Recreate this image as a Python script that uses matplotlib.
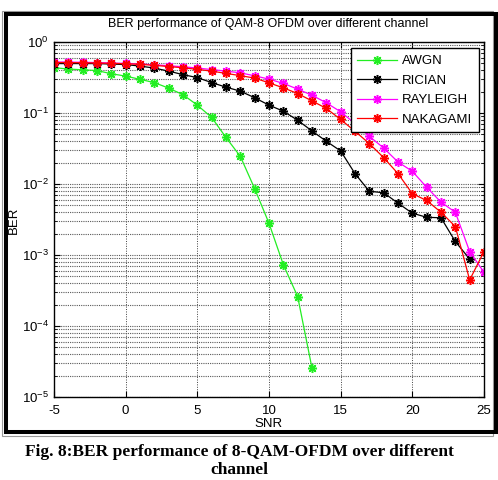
import numpy as np
import matplotlib
matplotlib.use("Agg")
import matplotlib.pyplot as plt
from matplotlib.patches import Rectangle
from matplotlib.ticker import LogLocator, NullFormatter, FixedLocator

plt.rcParams['font.family'] = ['Liberation Sans', 'DejaVu Sans']
plt.rcParams['mathtext.fontset'] = 'custom'
plt.rcParams['mathtext.rm'] = 'Liberation Sans'
plt.rcParams['mathtext.it'] = 'Liberation Sans'
plt.rcParams['axes.unicode_minus'] = False

snr = list(range(-5, 26))
awgn = [0.435, 0.416, 0.406, 0.396, 0.357, 0.331, 0.298, 0.268, 0.224, 0.181,
        0.129, 0.0866, 0.0452, 0.0245, 0.0086, 0.0028, 7.3e-4, 2.6e-4, 2.55e-5] + [np.nan] * 12
rician = [0.497, 0.497, 0.497, 0.497, 0.489, 0.481, 0.458, 0.429, 0.389, 0.347,
          0.315, 0.268, 0.2314, 0.203, 0.164, 0.129, 0.106, 0.079, 0.0558, 0.040,
          0.0292, 0.014, 0.0079, 0.00753, 0.00537, 0.00388, 0.0034, 0.00334, 0.00155, 0.000875, np.nan]
rayleigh = [0.522, 0.522, 0.517, 0.514, 0.505, 0.500, 0.489, 0.478, 0.463, 0.448,
            0.430, 0.409, 0.389, 0.368, 0.334, 0.300, 0.261, 0.217, 0.178, 0.139,
            0.104, 0.071, 0.047, 0.0321, 0.0204, 0.0151, 0.0090, 0.00555, 0.0040, 0.00112, 0.00057]
nakagami = [0.5135, 0.5135, 0.510, 0.505, 0.500, 0.494, 0.484, 0.469, 0.451, 0.4335,
            0.4115, 0.389, 0.361, 0.336, 0.310, 0.266, 0.226, 0.188, 0.148, 0.116,
            0.081, 0.0553, 0.0371, 0.0235, 0.014, 0.0073, 0.00586, 0.0040, 0.00252, 0.000445, 0.00112]

series = [("AWGN", awgn, "#22ee22"), ("RICIAN", rician, "black"),
          ("RAYLEIGH", rayleigh, "#ff00ff"), ("NAKAGAMI", nakagami, "#ff0000")]
xticks = [-5, 0, 5, 10, 15, 20, 25]

W, H = 498, 480
fig = plt.figure(figsize=(W / 100, H / 100), dpi=100)

def fx(px):
    return px / W

def fy(py):
    return 1 - py / H

ax = fig.add_axes([fx(54), fy(397), fx(484) - fx(54), fy(42) - fy(397)])
for name, vals, col in series:
    ax.plot(snr, vals, color=col, lw=0.9, marker=(8, 2, 0), markersize=6.5,
            markeredgewidth=1.1, label=name)

ax.set_yscale('log')
ax.set_xlim(-5, 25)
ax.set_ylim(1e-5, 1)
ax.xaxis.set_major_locator(FixedLocator(xticks))
ax.yaxis.set_major_locator(LogLocator(base=10, numticks=10))
ax.yaxis.set_minor_locator(LogLocator(base=10, subs=np.arange(2, 10), numticks=20))
ax.yaxis.set_minor_formatter(NullFormatter())
ax.tick_params(which='both', direction='in', top=True, right=True, labelsize=9.5)
ax.tick_params(which='major', length=4, width=0.8)
ax.tick_params(which='minor', length=2, width=0.6)
ax.tick_params(axis='x', pad=6)
ax.grid(True, which='major', axis='x', color='0.25', linestyle=(0, (1, 1.5)), lw=0.7)
ax.grid(True, which='both', axis='y', color='0.35', linestyle=(0, (1, 1)), lw=0.8)
for s in ax.spines.values():
    s.set_linewidth(1.0)

ax.legend(loc='upper right', bbox_to_anchor=(fx(479), fy(48.3)), bbox_transform=fig.transFigure,
          borderaxespad=0, fancybox=False, edgecolor='black', framealpha=1,
          fontsize=9.5, handlelength=3.0, labelspacing=0.55, borderpad=0.5,
          handletextpad=0.4).get_frame().set_linewidth(1.0)

fig.text(fx(268), fy(24), "BER performance of QAM-8 OFDM over different channel",
         ha='center', va='center', fontsize=9)
fig.text(fx(268), fy(424), "SNR", ha='center', va='center', fontsize=9.5)
fig.text(fx(14), fy(220), "BER", ha='center', va='center', rotation=90, fontsize=9.5)

fig.text(fx(239), fy(456), "Fig. 8:BER performance of 8-QAM-OFDM over different",
         ha='center', va='baseline', fontsize=12.5, fontweight='bold',
         family=['Liberation Serif', 'DejaVu Serif'])
fig.text(fx(239), fy(474), "channel",
         ha='center', va='baseline', fontsize=12.5, fontweight='bold',
         family=['Liberation Serif', 'DejaVu Serif'])

# frame
fig.patches.append(Rectangle((fx(2), fy(436)), fx(492.7) - fx(2), fy(11) - fy(436),
                             transform=fig.transFigure, fill=False, edgecolor='0.6', lw=0.8))
fig.patches.append(Rectangle((fx(5.5), fy(432)), fx(496) - fx(5.5), fy(14.5) - fy(432),
                             transform=fig.transFigure, fill=False, edgecolor='black', lw=2.9))

fig.savefig("out.png", dpi=100)
